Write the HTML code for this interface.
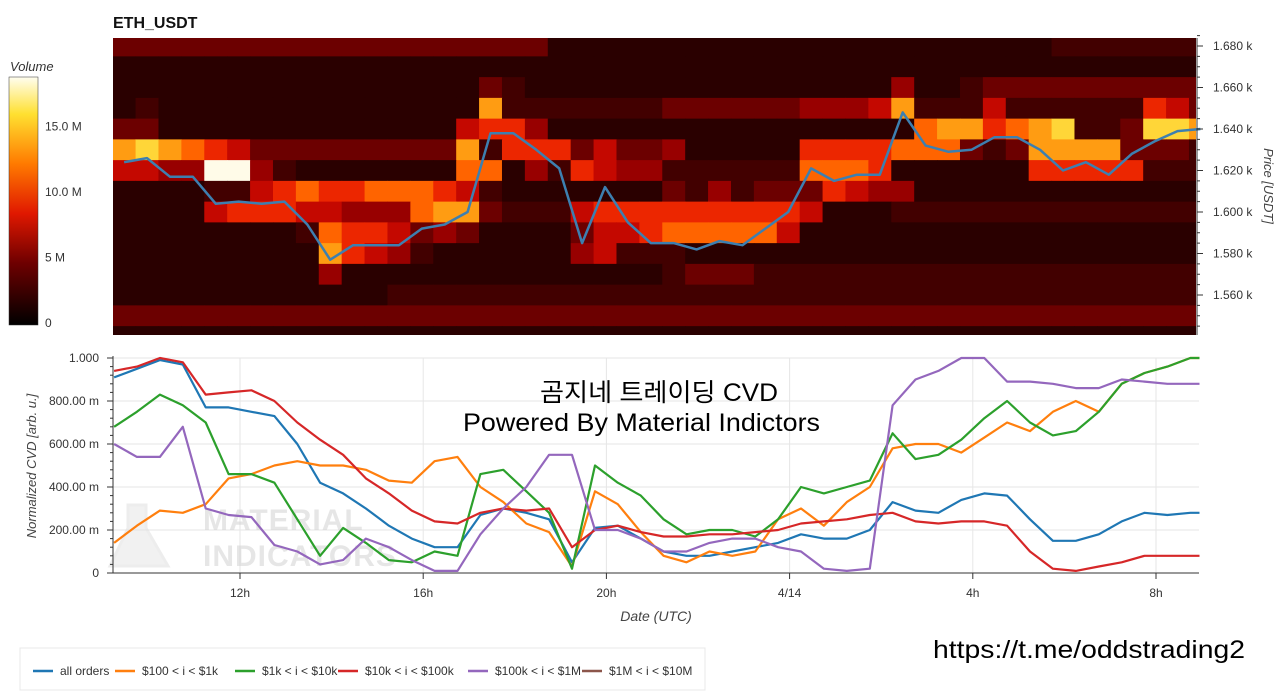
<!DOCTYPE html>
<html><head><meta charset="utf-8">
<style>
body{margin:0;width:1280px;height:692px;background:#fff;overflow:hidden;font-family:"Liberation Sans",sans-serif;}
svg text{font-family:"Liberation Sans","Noto Sans CJK KR",sans-serif;}
</style></head>
<body>
<svg id="chart" width="1280" height="692" xmlns="http://www.w3.org/2000/svg">
  <text x="113" y="28" font-size="16" font-weight="bold" fill="#111">ETH_USDT</text>
  <defs>
    <linearGradient id="cb" x1="0" y1="1" x2="0" y2="0">
      <stop offset="0" stop-color="#000"/><stop offset="0.25" stop-color="#6e0000"/>
      <stop offset="0.45" stop-color="#e01800"/><stop offset="0.65" stop-color="#ff7a00"/>
      <stop offset="0.85" stop-color="#ffe030"/><stop offset="1" stop-color="#fffef0"/>
    </linearGradient>
  </defs>
  <text x="10" y="71" font-size="13" font-style="italic" fill="#333">Volume</text>
  <rect x="9" y="77" width="29" height="248" fill="url(#cb)" stroke="#333" stroke-width="0.5"/>
  <g id="cbticks"></g>
  <g id="heat"></g>
  <g id="priceline"></g>
  <g id="priceaxis"></g>
  <text transform="translate(1264,186) rotate(90)" text-anchor="middle" font-size="13" font-style="italic" fill="#444">Price [USDT]</text>

  <g id="cvdgrid"></g>
  <g opacity="0.5">
    <path d="M128 505 L146 505 L146 528 L168 566 L110 566 L128 528 Z" fill="#e4e4e4" stroke="#ddd" stroke-width="3"/>
    <text x="203" y="530" font-size="30" font-weight="bold" fill="#cfcfcf" letter-spacing="1">MATERIAL</text>
    <text x="203" y="566" font-size="30" font-weight="bold" fill="#cfcfcf" letter-spacing="1">INDICATORS</text>
  </g>
  <text x="540" y="401" textLength="238" lengthAdjust="spacingAndGlyphs" font-size="25" fill="#000">곰지네 트레이딩 CVD</text>
  <text x="463" y="431" textLength="357" lengthAdjust="spacingAndGlyphs" font-size="25" fill="#000">Powered By Material Indictors</text>
  <g id="cvdlines"></g>
  <g id="cvdaxes"></g>
  <text transform="translate(36,466) rotate(-90)" text-anchor="middle" font-size="13" font-style="italic" fill="#444">Normalized CVD [arb. u.]</text>
  <text x="656" y="621" text-anchor="middle" font-size="14" font-style="italic" fill="#444">Date (UTC)</text>
  <text x="933" y="658" textLength="312" lengthAdjust="spacingAndGlyphs" font-size="25" fill="#000">https://t.me/oddstrading2</text>

  <g>
    <rect x="20" y="648" width="685" height="42" fill="#fff" stroke="#e8e8e8"/>
    <g id="legend"></g>
  </g>
</svg>
<script>
// ---- data ----
const cvdTimes = [9.25,9.75,10.25,10.75,11.25,11.75,12.25,12.75,13.25,13.75,14.25,14.75,15.25,15.75,16.25,16.75,17.25,17.75,18.25,18.75,19.25,19.75,20.25,20.75,21.25,21.75,22.25,22.75,23.25,23.75,24.25,24.75,25.25,25.75,26.25,26.75,27.25,27.75,28.25,28.75,29.25,29.75,30.25,30.75,31.25,31.75,32.25,32.75,32.95];
const allOrders = [0.91,0.95,0.99,0.97,0.77,0.77,0.75,0.73,0.6,0.42,0.37,0.3,0.22,0.16,0.12,0.12,0.27,0.3,0.28,0.25,0.05,0.21,0.22,0.16,0.1,0.08,0.08,0.1,0.12,0.14,0.18,0.16,0.16,0.2,0.33,0.29,0.28,0.34,0.37,0.36,0.25,0.15,0.15,0.18,0.24,0.28,0.27,0.28,0.28];
const s100_1k = [0.14,0.22,0.29,0.28,0.32,0.44,0.46,0.5,0.52,0.5,0.5,0.48,0.43,0.42,0.52,0.54,0.4,0.33,0.23,0.19,0.03,0.38,0.32,0.19,0.08,0.05,0.1,0.08,0.1,0.25,0.3,0.22,0.33,0.4,0.58,0.6,0.6,0.56,0.63,0.7,0.66,0.75,0.8,0.75,0.88,0.93,0.96,1.0,1.0];
const s1k_10k = [0.68,0.75,0.83,0.78,0.7,0.46,0.46,0.42,0.25,0.08,0.21,0.14,0.06,0.05,0.1,0.08,0.46,0.48,0.38,0.28,0.02,0.5,0.42,0.36,0.25,0.18,0.2,0.2,0.17,0.25,0.4,0.37,0.4,0.43,0.65,0.53,0.55,0.62,0.72,0.8,0.7,0.64,0.66,0.75,0.88,0.93,0.96,1.0,1.0];
const s10k_100k = [0.94,0.96,1.0,0.98,0.83,0.84,0.85,0.8,0.7,0.62,0.55,0.44,0.37,0.29,0.24,0.23,0.28,0.3,0.29,0.3,0.12,0.2,0.22,0.19,0.17,0.17,0.18,0.18,0.19,0.2,0.23,0.24,0.25,0.27,0.28,0.24,0.23,0.24,0.24,0.22,0.1,0.02,0.01,0.03,0.05,0.08,0.08,0.08,0.08];
const s100k_1m = [0.6,0.54,0.54,0.68,0.3,0.27,0.26,0.13,0.1,0.04,0.06,0.16,0.12,0.06,0.01,0.01,0.18,0.3,0.4,0.55,0.55,0.2,0.2,0.16,0.1,0.1,0.14,0.16,0.16,0.12,0.1,0.02,0.01,0.02,0.78,0.9,0.94,1.0,1.0,0.89,0.89,0.88,0.86,0.86,0.9,0.89,0.88,0.88,0.88];
const cvdYTicks = [0,0.2,0.4,0.6,0.8,1.0];
const cvdYLabels = ["0","200.00 m","400.00 m","600.00 m","800.00 m","1.000"];
const xTickTimes = [12,16,20,24,28,32];
const xTickLabels = ["12h","16h","20h","4/14","4h","8h"];

const heatStart = 9.22, heatStep = 0.5;
const priceLevels = [1680,1670,1660,1650,1640,1630,1620,1610,1600,1590,1580,1570,1560,1550,1540];
const heatRows = [
 "333333333333333333311111111111111111111112222222",
 "111111111111111111111111111111111111111111111111",
 "111111111111111132111111111111111141123333333333",
 "121111111111111182222222333333444582225222222653",
 "331111111111111566411111111111111117886789223998",
 "898765333333333826663533411111666677732388883332",
 "5544aa421111111771426544222222777611111166666222",
 "111122567667776521111111324233365441111111111111",
 "111156665544478832225666666666511122222222222222",
 "111111112766534311113556777775111111111111111111",
 "111111111865421111114522211111111111111111111111",
 "111111111411111111111111233322222222222222222222",
 "111111111111222222222222222222222222222222222222",
 "333333333333333333333333333333333333333333333333",
 "111111111111111111111111111111111111111111111111"
];
const pricePts = [1624,1626,1617,1617,1604,1605,1604,1605,1594,1577,1584,1584,1584,1592,1594,1600,1638,1638,1630,1621,1585,1612,1595,1585,1585,1582,1586,1584,1592,1600,1621,1615,1618,1618,1648,1632,1629,1630,1636,1636,1630,1620,1624,1618,1628,1634,1639,1640];
const priceTicks = [1680,1660,1640,1620,1600,1580,1560];
const cbTicks = [0,5,10,15];
const cbLabels = ["0","5 M","10.0 M","15.0 M"];

// ---- styles ----
const palette = {"0":"#120000","1":"#2a0000","2":"#420000","3":"#6c0000","4":"#980000","5":"#c40800","6":"#ec2600","7":"#ff6400","8":"#ff9c12","9":"#ffd638","a":"#fffbe8"};
const NS="http://www.w3.org/2000/svg";
function mk(tag, attrs, parent){const e=document.createElementNS(NS,tag);for(const k in attrs)e.setAttribute(k,attrs[k]);parent.appendChild(e);return e;}
const xT = t => 240 + (t-12)*45.8;
const yP = p => 46 + (1680-p)*2.075;
const yC = v => 573 - v*215;
const yCb = v => 323 - v*13.1;

const cbg=document.getElementById('cbticks');
cbTicks.forEach((v,i)=>{
  const t=mk('text',{x:45,y:yCb(v)+4,'font-size':12,fill:'#333'},cbg);t.textContent=cbLabels[i];
  
  
});

const hg=document.getElementById('heat');
const cp=mk('clipPath',{id:'hclip'},hg);
mk('rect',{x:113,y:38,width:1083,height:297},cp);
const cells=mk('g',{'clip-path':'url(#hclip)'},hg);
heatRows.forEach((row,r)=>{
  const p=priceLevels[r];
  for(let i=0;i<row.length;i++){
    const x0=xT(heatStart+i*heatStep), x1=xT(heatStart+(i+1)*heatStep);
    const y0=yP(p+5), y1=yP(p-5);
    const c=mk('rect',{x:x0,y:y0,width:x1-x0+0.5,height:y1-y0+0.5,fill:palette[row[i]]},cells);
    
    
  }
});

const pl=document.getElementById('priceline');
const pd=pricePts.map((p,i)=>(i?'L':'M')+xT(heatStart+heatStep/2+i*heatStep).toFixed(1)+' '+yP(p).toFixed(1)).join(' ');
const pp=mk('path',{d:pd,fill:'none',stroke:'#3d7fb0','stroke-width':2.5,'stroke-linejoin':'round'},pl);



const pa=document.getElementById('priceaxis');
mk('line',{x1:1197,y1:38,x2:1197,y2:335,stroke:'#333'},pa);
priceTicks.forEach(p=>{
  mk('line',{x1:1197,y1:yP(p),x2:1203,y2:yP(p),stroke:'#333'},pa);
  const t=mk('text',{x:1213,y:yP(p)+4,'font-size':12,fill:'#333'},pa);
  t.textContent=(p/1000).toFixed(3)+' k';
  
  
});
for(let p=1545;p<=1685;p+=5){mk('line',{x1:1197,y1:yP(p),x2:1200,y2:yP(p),stroke:'#333'},pa);}

const gg=document.getElementById('cvdgrid');
cvdYTicks.forEach(v=>mk('line',{x1:113,y1:yC(v),x2:1199,y2:yC(v),stroke:'#e6e6e6'},gg));
xTickTimes.forEach(t=>mk('line',{x1:xT(t),y1:358,x2:xT(t),y2:573,stroke:'#e6e6e6'},gg));

const series=[[allOrders,'#1f77b4','cvd-all-orders'],[s100_1k,'#ff7f0e','cvd-100-1k'],[s1k_10k,'#2ca02c','cvd-1k-10k'],[s10k_100k,'#d62728','cvd-10k-100k'],[s100k_1m,'#9467bd','cvd-100k-1m']];
const lg=document.getElementById('cvdlines');
series.forEach(([vals,col,name])=>{
  const d=vals.map((v,i)=>(i?'L':'M')+xT(cvdTimes[i]).toFixed(1)+' '+yC(v).toFixed(1)).join(' ');
  const p=mk('path',{d:d,fill:'none',stroke:col,'stroke-width':2.2,'stroke-linejoin':'round'},lg);
  
  
});

const ag=document.getElementById('cvdaxes');
mk('line',{x1:113,y1:356,x2:113,y2:573,stroke:'#333'},ag);
mk('line',{x1:113,y1:573,x2:1199,y2:573,stroke:'#333'},ag);
cvdYTicks.forEach((v,i)=>{
  mk('line',{x1:107,y1:yC(v),x2:113,y2:yC(v),stroke:'#333'},ag);
  const t=mk('text',{x:99,y:yC(v)+4,'font-size':12,fill:'#333','text-anchor':'end'},ag);
  t.textContent=cvdYLabels[i];
  
  
});
for(let v=0;v<=1.0001;v+=0.04){mk('line',{x1:110,y1:yC(v),x2:113,y2:yC(v),stroke:'#333'},ag);}
xTickTimes.forEach((tt,i)=>{
  mk('line',{x1:xT(tt),y1:573,x2:xT(tt),y2:579,stroke:'#333'},ag);
  const t=mk('text',{x:xT(tt),y:597,'font-size':12,fill:'#333','text-anchor':'middle'},ag);
  t.textContent=xTickLabels[i];
  
  
});

const legendNames=["all orders","$100 < i < $1k","$1k < i < $10k","$10k < i < $100k","$100k < i < $1M","$1M < i < $10M"];
const legendColors=['#1f77b4','#ff7f0e','#2ca02c','#d62728','#9467bd','#8c564b'];
const legendX=[33,115,235,338,468,582];
const leg=document.getElementById('legend');
legendNames.forEach((n,i)=>{
  const g=mk('g',{},leg);
  
  
  mk('line',{x1:legendX[i],y1:671,x2:legendX[i]+20,y2:671,stroke:legendColors[i],'stroke-width':2.5},g);
  const t=mk('text',{x:legendX[i]+27,y:675,'font-size':12,fill:'#333'},g);
  t.textContent=n;
});
</script>
</body></html>
